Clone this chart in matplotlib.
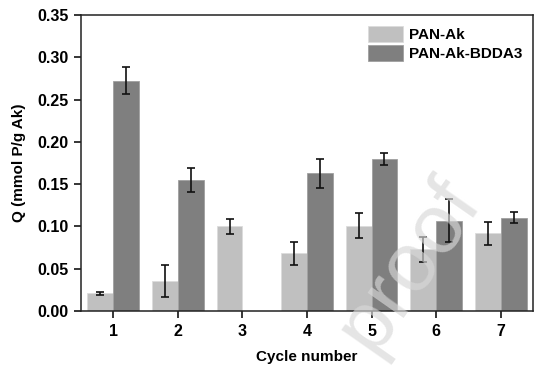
import numpy as np
import matplotlib.pyplot as plt

plt.rcParams['font.family'] = ['Liberation Sans', 'DejaVu Sans']
plt.rcParams['font.weight'] = 'bold'

# data
cycles = [1, 2, 3, 4, 5, 6, 7]
pan_ak = [0.021, 0.035, 0.100, 0.068, 0.101, 0.073, 0.092]
pan_ak_err = [0.002, 0.019, 0.009, 0.014, 0.015, 0.015, 0.0135]
bdda3 = [0.272, 0.155, np.nan, 0.163, 0.180, 0.107, 0.110]
bdda3_err = [0.016, 0.014, np.nan, 0.017, 0.007, 0.026, 0.0065]

x = np.array(cycles)
w = 0.4

fig = plt.figure(figsize=(5.53, 3.68), dpi=100)
ax = fig.add_axes([81/553, 1 - 311/368, (533-81)/553, (311-15)/368])

ek = dict(ecolor='#111111', elinewidth=1.2, capsize=3, capthick=1.2)
ax.bar(x - w/2, pan_ak, w, yerr=pan_ak_err, color='#c0c0c0',
       edgecolor='#dcdcdc', linewidth=0.6, error_kw=ek, label='PAN-Ak')
ax.bar(x + w/2, bdda3, w, yerr=bdda3_err, color='#7f7f7f',
       edgecolor='#a0a0a0', linewidth=0.6, error_kw=ek, label='PAN-Ak-BDDA3')

ax.set_xlim(0.5, 7.5)
ax.set_ylim(0, 0.35)
ax.set_xticks(cycles)
ax.set_yticks(np.arange(0, 0.351, 0.05))
ax.set_yticklabels([f'{v:.2f}' for v in np.arange(0, 0.351, 0.05)])
ax.tick_params(labelsize=11.5, width=1.1, length=5, direction='out', pad=4)
for s in ax.spines.values():
    s.set_linewidth(1.1)
    s.set_color('#222222')

ax.set_xlabel('Cycle number', fontsize=11, fontweight='bold', labelpad=8)
ax.set_ylabel('Q (mmol P/g Ak)', fontsize=11, fontweight='bold', labelpad=8)

leg = ax.legend(loc='upper right', frameon=False, fontsize=11,
                handlelength=2.3, handleheight=1.3, handletextpad=0.4,
                labelspacing=0.15, borderaxespad=0.3, borderpad=0.4)

# faint watermark
fig.text(0.74, 0.28, 'proof', fontsize=60, color='#d8d8d8', alpha=0.65,
         rotation=55, ha='center', va='center', fontweight='normal', zorder=10)

fig.savefig('out.png', dpi=100)
